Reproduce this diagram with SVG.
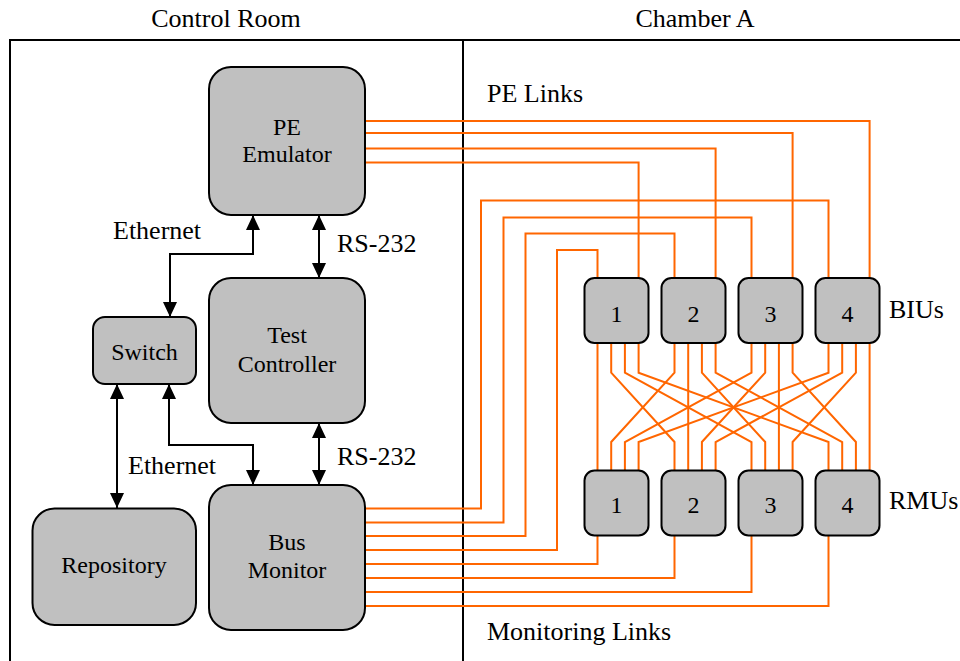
<svg xmlns="http://www.w3.org/2000/svg" width="960" height="661" viewBox="0 0 960 661">
<style>
.box{fill:#c0c0c0;stroke:#000;stroke-width:2}
.lbl{font-family:"Liberation Serif","Times New Roman",serif;font-size:24px;fill:#000;text-anchor:middle}
.num{font-family:"Liberation Serif","Times New Roman",serif;font-size:24px;fill:#000;text-anchor:middle}
.txt{font-family:"Liberation Serif","Times New Roman",serif;font-size:26px;fill:#000}
.ln{fill:none;stroke:#ff6600;stroke-width:2}
.arr{fill:none;stroke:#000;stroke-width:2;marker-start:url(#ah);marker-end:url(#ah)}
.frame{fill:none;stroke:#000;stroke-width:2}
</style>
<defs>
<marker id="ah" viewBox="0 0 15 14" refX="15" refY="7" markerWidth="15" markerHeight="14" markerUnits="userSpaceOnUse" orient="auto-start-reverse">
<path d="M0,0 L15,7 L0,14 z" fill="#000"/>
</marker>
</defs>
<rect width="960" height="661" fill="#fff"/>
<g id="frame">
<path class="frame" d="M10,661 V40 H960 M463,40 V661"/>
<text class="txt" x="226" y="27" text-anchor="middle">Control Room</text>
<text class="txt" x="695" y="27" text-anchor="middle">Chamber A</text>
</g>
<g id="connectors">
<path class="ln" d="M365,121 H869.6 V278"/>
<path class="ln" d="M365,133 H792.6 V278"/>
<path class="ln" d="M365,148.5 H715.6 V278"/>
<path class="ln" d="M365,162.5 H638.6 V278"/>
<path class="ln" d="M365,508.5 H481 V200.5 H828.5 V278"/>
<path class="ln" d="M365,522.5 H503.5 V217.5 H751.5 V278"/>
<path class="ln" d="M365,536 H525.5 V233.5 H674.5 V278"/>
<path class="ln" d="M365,550 H557 V250 H597.5 V278"/>
<path class="ln" d="M365,564 H597.5 V535"/>
<path class="ln" d="M365,578 H674.5 V535"/>
<path class="ln" d="M365,592 H751.5 V535"/>
<path class="ln" d="M365,606 H828.5 V535"/>
<path class="ln" d="M597.5,343 V471"/>
<path class="ln" d="M611.2,343 V372.7 L674.5,442 V471"/>
<path class="ln" d="M624.9,343 V372.7 L751.5,442 V471"/>
<path class="ln" d="M638.6,343 V372.7 L828.5,442 V471"/>
<path class="ln" d="M674.5,343 V372.7 L611.2,442 V471"/>
<path class="ln" d="M688.2,343 V471"/>
<path class="ln" d="M701.9,343 V372.7 L765.2,442 V471"/>
<path class="ln" d="M715.6,343 V372.7 L842.2,442 V471"/>
<path class="ln" d="M751.5,343 V372.7 L624.9,442 V471"/>
<path class="ln" d="M765.2,343 V372.7 L701.9,442 V471"/>
<path class="ln" d="M778.9,343 V471"/>
<path class="ln" d="M792.6,343 V372.7 L855.9,442 V471"/>
<path class="ln" d="M828.5,343 V372.7 L638.6,442 V471"/>
<path class="ln" d="M842.2,343 V372.7 L715.6,442 V471"/>
<path class="ln" d="M855.9,343 V372.7 L792.6,442 V471"/>
<path class="ln" d="M869.6,343 V471"/>
<path class="arr" d="M253,215 V254 H170 V317"/>
<path class="arr" d="M319,215 V278"/>
<path class="arr" d="M117,384 V508"/>
<path class="arr" d="M169,384 V445 H253 V485"/>
<path class="arr" d="M319,423 V485"/>
<text class="txt" x="113" y="239">Ethernet</text>
<text class="txt" x="337" y="252">RS-232</text>
<text class="txt" x="128" y="474">Ethernet</text>
<text class="txt" x="337" y="465">RS-232</text>
<text class="txt" x="487" y="102">PE Links</text>
<text class="txt" x="487" y="640">Monitoring Links</text>
<text class="txt" x="889" y="318">BIUs</text>
<text class="txt" x="889" y="509">RMUs</text>
</g>
<g id="pe-emulator">
<rect class="box" x="209" y="67" width="156" height="148" rx="22"/>
<text class="lbl" x="287" y="135">PE</text>
<text class="lbl" x="287" y="162">Emulator</text>
</g>
<g id="test-controller">
<rect class="box" x="209" y="278" width="156" height="145" rx="22"/>
<text class="lbl" x="287" y="343">Test</text>
<text class="lbl" x="287" y="371.5">Controller</text>
</g>
<g id="bus-monitor">
<rect class="box" x="209" y="485" width="156" height="145" rx="22"/>
<text class="lbl" x="287" y="550">Bus</text>
<text class="lbl" x="287" y="578">Monitor</text>
</g>
<g id="switch">
<rect class="box" x="93" y="317" width="103" height="67" rx="12"/>
<text class="lbl" x="144.5" y="360">Switch</text>
</g>
<g id="repository">
<rect class="box" x="32.5" y="508.5" width="163.5" height="116.5" rx="22"/>
<text class="lbl" x="114" y="572.5">Repository</text>
</g>
<g id="biu-1"><rect class="box" x="584.5" y="278" width="64" height="65" rx="10"/><text class="num" x="616.5" y="322">1</text></g>
<g id="biu-2"><rect class="box" x="661.5" y="278" width="64" height="65" rx="10"/><text class="num" x="693.5" y="322">2</text></g>
<g id="biu-3"><rect class="box" x="738.5" y="278" width="64" height="65" rx="10"/><text class="num" x="770.5" y="322">3</text></g>
<g id="biu-4"><rect class="box" x="815.5" y="278" width="64" height="65" rx="10"/><text class="num" x="847.5" y="322">4</text></g>
<g id="rmu-1"><rect class="box" x="584.5" y="470.5" width="64" height="65" rx="10"/><text class="num" x="616.5" y="513">1</text></g>
<g id="rmu-2"><rect class="box" x="661.5" y="470.5" width="64" height="65" rx="10"/><text class="num" x="693.5" y="513">2</text></g>
<g id="rmu-3"><rect class="box" x="738.5" y="470.5" width="64" height="65" rx="10"/><text class="num" x="770.5" y="513">3</text></g>
<g id="rmu-4"><rect class="box" x="815.5" y="470.5" width="64" height="65" rx="10"/><text class="num" x="847.5" y="513">4</text></g>
</svg>
